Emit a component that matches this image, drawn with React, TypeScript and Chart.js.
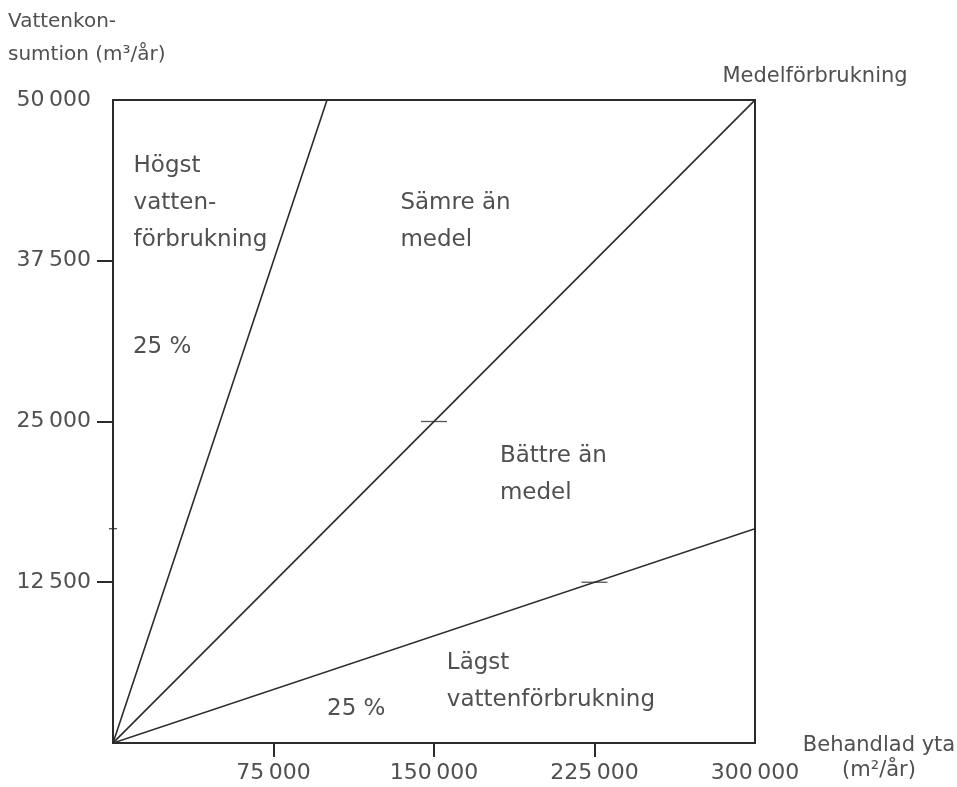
import React, { useEffect, useRef } from "react";
import { Chart, registerables } from "chart.js";

Chart.register(...registerables);

// ---- data ----
const xTicks = [0, 75000, 150000, 225000, 300000];
const yTicks = [0, 12500, 25000, 37500, 50000];

const highX = [0, 100000];
const highY = [0, 50000];
const avgX = [0, 300000];
const avgY = [0, 50000];
const lowX = [0, 300000];
const lowY = [0, 16667];

const markX = [150000, 225000];
const markY = [25000, 12500];
const axisMarkX = [0];
const axisMarkY = [16667];

const regionLabels = [
  { lines: ["Högst", "vatten-", "förbrukning"], x: 9600, y: 44900 },
  { lines: ["25 %"], x: 9300, y: 30800 },
  { lines: ["Sämre än", "medel"], x: 134300, y: 42000 },
  { lines: ["Bättre än", "medel"], x: 180800, y: 22300 },
  { lines: ["Lägst", "vattenförbrukning"], x: 156000, y: 6200 },
  { lines: ["25 %"], x: 100000, y: 2650 },
];

const yTitle = ["Vattenkon-", "sumtion (m³/år)"];
const xTitle = ["Behandlad yta", "(m²/år)"];
const avgTitle = "Medelförbrukning";

const TEXT = "#505050";
const LINE = "#2b2b2b";
const FONT = '"DejaVu Sans", Verdana, sans-serif';

const fmt = (v: number) => {
  if (v === 0) return "";
  const th = Math.floor(v / 1000);
  const rest = String(v % 1000).padStart(3, "0");
  return `${th}\u2009${rest}`;
};

const toPts = (xs: number[], ys: number[]) => xs.map((x, i) => ({ x, y: ys[i] }));

const decorPlugin = {
  id: "decor",
  afterDraw(chart: any) {
    const { ctx, chartArea, scales } = chart;
    const { left, right, top, bottom } = chartArea;
    ctx.save();
    // frame
    ctx.strokeStyle = LINE;
    ctx.lineWidth = 2;
    ctx.strokeRect(left, top, right - left, bottom - top);

    ctx.fillStyle = TEXT;
    ctx.textBaseline = "middle";
    ctx.textAlign = "left";
    ctx.font = `23px ${FONT}`;
    regionLabels.forEach((r) => {
      const px = scales.x.getPixelForValue(r.x);
      const py = scales.y.getPixelForValue(r.y);
      r.lines.forEach((t, i) => ctx.fillText(t, px, py + i * 37));
    });

    // title for average line
    ctx.font = `21px ${FONT}`;
    ctx.textAlign = "center";
    ctx.fillText(avgTitle, right + 60, top - 23);

    // y axis title
    ctx.font = `20px ${FONT}`;
    ctx.textAlign = "left";
    yTitle.forEach((t, i) => ctx.fillText(t, 8, 22 + i * 33));

    // x axis title
    ctx.font = `21px ${FONT}`;
    ctx.textAlign = "center";
    ctx.fillText(xTitle[0], right + 124, bottom + 3);
    ctx.fillText(xTitle[1], right + 124, bottom + 28);
    ctx.restore();
  },
};

export default function App() {
  const ref = useRef<HTMLCanvasElement>(null);

  useEffect(() => {
    if (!ref.current) return;
    const lineDs = (xs: number[], ys: number[]) => ({
      data: toPts(xs, ys),
      showLine: true,
      borderColor: LINE,
      borderWidth: 1.6,
      pointRadius: 0,
      fill: false,
    });
    const tickColor = (ctx: any) => {
      const v = ctx.tick?.value;
      return v === 0 || v === 300000 || v === 50000 ? "rgba(0,0,0,0)" : LINE;
    };
    const chart = new Chart(ref.current, {
      type: "scatter",
      data: {
        datasets: [
          lineDs(highX, highY),
          lineDs(avgX, avgY),
          lineDs(lowX, lowY),
          {
            data: toPts(markX, markY),
            showLine: false,
            pointStyle: "line",
            pointRadius: 13,
            borderColor: "#555",
            borderWidth: 1.3,
          } as any,
          {
            data: toPts(axisMarkX, axisMarkY),
            showLine: false,
            pointStyle: "line",
            pointRadius: 4,
            borderColor: "#555",
            borderWidth: 1.3,
            clip: false,
          } as any,
        ],
      },
      options: {
        animation: false,
        responsive: false,
        layout: { padding: { left: 0, right: 202, top: 100, bottom: 0 } },
        plugins: { legend: { display: false }, tooltip: { enabled: false } },
        scales: {
          x: {
            type: "linear",
            min: 0,
            max: 300000,
            afterBuildTicks: (s: any) => {
              s.ticks = xTicks.map((value) => ({ value }));
            },
            afterFit: (s: any) => {
              s.height = 44;
            },
            ticks: {
              callback: (v: any) => fmt(Number(v)),
              color: TEXT,
              font: { family: FONT, size: 22 },
              padding: 3,
              maxRotation: 0,
            },
            grid: {
              drawOnChartArea: false,
              drawTicks: true,
              tickLength: 14,
              color: tickColor,
              lineWidth: 2,
            },
            border: { display: true, color: LINE, width: 2 },
          },
          y: {
            type: "linear",
            min: 0,
            max: 50000,
            afterBuildTicks: (s: any) => {
              s.ticks = yTicks.map((value) => ({ value }));
            },
            afterFit: (s: any) => {
              s.width = 113;
            },
            ticks: {
              callback: (v: any) => fmt(Number(v)),
              color: TEXT,
              font: { family: FONT, size: 22 },
              padding: 6,
            },
            grid: {
              drawOnChartArea: false,
              drawTicks: true,
              tickLength: 16,
              color: tickColor,
              lineWidth: 2,
            },
            border: { display: true, color: LINE, width: 2 },
          },
        },
      },
      plugins: [decorPlugin],
    });
    return () => chart.destroy();
  }, []);

  return (
    <canvas
      ref={ref}
      width={957}
      height={787}
      style={{ position: "absolute", left: 0, top: 0, background: "#fff", display: "block" }}
    />
  );
}
